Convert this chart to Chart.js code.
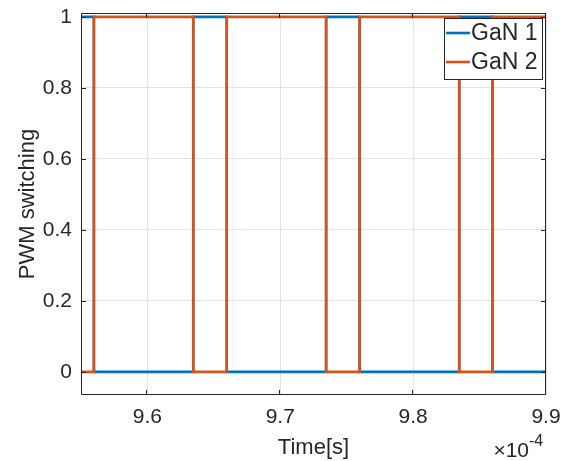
<!DOCTYPE html>
<html lang="en">

<head>
    <meta charset="UTF-8">
    <title>PWM switching</title>
    <script src="https://cdn.jsdelivr.net/npm/chart.js"></script>
    <style>
        body {
            margin: 0;
            background: #fff;
        }
    </style>
</head>

<body>
    <canvas id="pwmChart" width="568" height="461"></canvas>

    <script>
        // time in units of 1e-4 s, level holds from each instant until the next one
        const timeE4 = [9.55, 9.5597, 9.6345, 9.6597, 9.7345, 9.7597, 9.8347, 9.8597, 9.9];
        const gan1 = [1, 0, 1, 0, 1, 0, 1, 0, 0];
        const gan2 = [0, 1, 0, 1, 0, 1, 0, 1, 1];
        const seriesNames = ['GaN 1', 'GaN 2'];
        const seriesColors = ['#0072BD', '#D95319'];
        const xTicks = [9.6, 9.7, 9.8, 9.9];
        const yTicks = [0, 0.2, 0.4, 0.6, 0.8, 1];

        const textColor = '#262626';
        const font = 'Liberation Sans, Arial, sans-serif';

        function toPoints(levels) {
            return timeE4.map((t, i) => ({ x: t, y: levels[i] }));
        }

        // box, inward ticks, legend and labels drawn like the matlab figure
        const matlabFrame = {
            id: 'matlabFrame',
            afterDraw(chart) {
                const ctx = chart.ctx;
                const a = chart.chartArea;
                const xs = chart.scales.x;
                const ys = chart.scales.y;
                ctx.save();

                ctx.strokeStyle = textColor;
                ctx.lineWidth = 1;
                ctx.beginPath();
                ctx.rect(a.left + 0.5, a.top + 0.5, a.right - a.left - 1, a.bottom - a.top - 1);
                const tl = 5;
                xTicks.forEach(v => {
                    const px = Math.round(xs.getPixelForValue(v)) - 0.5;
                    ctx.moveTo(px, a.bottom);
                    ctx.lineTo(px, a.bottom - tl);
                    ctx.moveTo(px, a.top);
                    ctx.lineTo(px, a.top + tl);
                });
                yTicks.forEach(v => {
                    const py = Math.round(ys.getPixelForValue(v)) + 0.5;
                    ctx.moveTo(a.left, py);
                    ctx.lineTo(a.left + tl, py);
                    ctx.moveTo(a.right, py);
                    ctx.lineTo(a.right - tl, py);
                });
                ctx.stroke();

                // legend
                const lx = 444, ly = 18, lw = 98, lh = 61;
                ctx.fillStyle = '#fff';
                ctx.fillRect(lx, ly, lw, lh);
                ctx.strokeStyle = textColor;
                ctx.strokeRect(lx + 0.5, ly + 0.5, lw, lh);
                ctx.font = '23px ' + font;
                ctx.textBaseline = 'middle';
                ctx.textAlign = 'left';
                seriesNames.forEach((name, i) => {
                    const y = ly + 15 + i * 29;
                    ctx.strokeStyle = seriesColors[i];
                    ctx.lineWidth = 2.6;
                    ctx.beginPath();
                    ctx.moveTo(lx + 2, y);
                    ctx.lineTo(lx + 26, y);
                    ctx.stroke();
                    ctx.fillStyle = textColor;
                    ctx.fillText(name, lx + 27, y + 1);
                });

                // axis titles
                ctx.fillStyle = textColor;
                ctx.textBaseline = 'alphabetic';
                ctx.textAlign = 'center';
                ctx.font = '22px ' + font;
                ctx.fillText('Time[s]', (a.left + a.right) / 2, 454);

                ctx.save();
                ctx.translate(34, (a.top + a.bottom) / 2);
                ctx.rotate(-Math.PI / 2);
                ctx.fillText('PWM switching', 0, 0);
                ctx.restore();

                // exponent
                ctx.textAlign = 'right';
                ctx.font = '21px ' + font;
                ctx.fillText('\u00d710', a.right - 17, 457);
                ctx.textAlign = 'left';
                ctx.font = '16px ' + font;
                ctx.fillText('-4', a.right - 17, 446);

                ctx.restore();
            }
        };

        const ctx = document.getElementById('pwmChart').getContext('2d');
        const pwmChart = new Chart(ctx, {
            type: 'line',
            data: {
                datasets: [{
                    label: seriesNames[0],
                    data: toPoints(gan1),
                    borderColor: seriesColors[0],
                    borderWidth: 2.6,
                    stepped: true,
                    pointRadius: 0,
                    order: 1
                }, {
                    label: seriesNames[1],
                    data: toPoints(gan2),
                    borderColor: seriesColors[1],
                    borderWidth: 2.6,
                    stepped: true,
                    pointRadius: 0,
                    order: 0
                }]
            },
            options: {
                responsive: false,
                animation: false,
                devicePixelRatio: 1,
                layout: {
                    padding: { left: 0, right: 22, top: 13, bottom: 0 }
                },
                plugins: {
                    legend: { display: false },
                    tooltip: { enabled: false }
                },
                scales: {
                    x: {
                        type: 'linear',
                        min: 9.55,
                        max: 9.9,
                        afterBuildTicks: scale => {
                            scale.ticks = xTicks.map(v => ({ value: v }));
                        },
                        afterFit: scale => {
                            scale.height = 66;
                            scale.paddingLeft = 0;
                            scale.paddingRight = 0;
                        },
                        ticks: {
                            callback: v => String(v),
                            color: textColor,
                            padding: 10,
                            maxRotation: 0,
                            font: { family: font, size: 21 }
                        },
                        grid: { color: '#e3e3e3', drawTicks: false },
                        border: { display: false }
                    },
                    y: {
                        min: -0.065,
                        max: 1.011,
                        afterBuildTicks: scale => {
                            scale.ticks = yTicks.map(v => ({ value: v }));
                        },
                        afterFit: scale => {
                            scale.width = 81;
                            scale.paddingTop = 0;
                            scale.paddingBottom = 0;
                        },
                        ticks: {
                            callback: v => String(v),
                            color: textColor,
                            padding: 9,
                            font: { family: font, size: 21 }
                        },
                        grid: { color: '#e3e3e3', drawTicks: false },
                        border: { display: false }
                    }
                }
            },
            plugins: [matlabFrame]
        });
    </script>
</body>

</html>
